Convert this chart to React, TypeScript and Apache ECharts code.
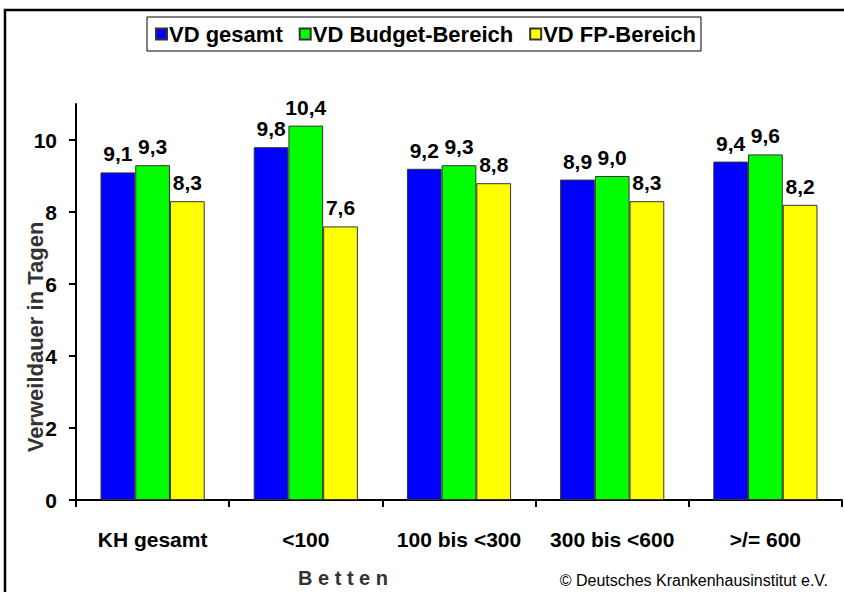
import React, { useEffect, useRef } from "react";
import * as echarts from "echarts";

const categories = ["KH gesamt", "<100", "100 bis <300", "300 bis <600", ">/= 600"];
const seriesNames = ["VD gesamt", "VD Budget-Bereich", "VD FP-Bereich"];
const vdGesamt = [9.1, 9.8, 9.2, 8.9, 9.4];
const vdBudget = [9.3, 10.4, 9.3, 9.0, 9.6];
const vdFP = [8.3, 7.6, 8.8, 8.3, 8.2];
const colors = ["#0000FF", "#00FF00", "#FFFF00"];
const yTicks = [0, 2, 4, 6, 8, 10];
const xAxisTitle = "B e t t e n";
const yAxisTitle = "Verweildauer in Tagen";
const copyright = "© Deutsches Krankenhausinstitut e.V.";

const FONT = "'Liberation Sans', Arial, sans-serif";

export default function App() {
  const ref = useRef<HTMLDivElement>(null);
  useEffect(() => {
    document.body.style.margin = "0";
    if (!ref.current) return;
    const chart = echarts.init(ref.current, null, { renderer: "svg" });
    const allData = [vdGesamt, vdBudget, vdFP];
    chart.setOption({
      animation: false,
      backgroundColor: "#fff",
      textStyle: { fontFamily: FONT },
      legend: {
        left: 147,
        top: 17,
        padding: [6, 5, 6, 8],
        itemGap: 16,
        itemWidth: 11,
        itemHeight: 11,
        borderColor: "#000",
        borderWidth: 1,
        backgroundColor: "#fff",
        textStyle: { fontSize: 22, fontWeight: "bold", color: "#000", fontFamily: FONT, padding: [0, 0, 0, -3] },
        data: seriesNames.map((n) => ({ name: n, icon: "rect" })),
      },
      grid: { left: 76, right: 2, top: 104, bottom: 92, containLabel: false, outerBoundsMode: "none" },
      xAxis: {
        type: "category",
        data: categories,
        axisLine: { lineStyle: { color: "#000", width: 2 } },
        axisTick: { show: true, length: 7, interval: 0, lineStyle: { color: "#000", width: 2 } },
        axisLabel: { interval: 0, margin: 29, fontSize: 21, fontWeight: "bold", color: "#000", fontFamily: FONT },
      },
      yAxis: {
        type: "value",
        min: 0,
        max: 11,
        splitLine: { show: false },
        axisLine: { show: true, lineStyle: { color: "#000", width: 2 } },
        axisTick: { show: true, length: 7, lineStyle: { color: "#000", width: 2 }, customValues: yTicks },
        axisLabel: { margin: 19, fontSize: 21, fontWeight: "bold", color: "#000", fontFamily: FONT, customValues: yTicks },
      },
      series: seriesNames.map((name, i) => ({
        name,
        type: "bar",
        data: allData[i],
        barGap: "0%",
        barCategoryGap: "32%",
        itemStyle: { color: colors[i], borderColor: "#333", borderWidth: 1 },
        label: {
          show: true,
          position: "top",
          distance: 8,
          fontSize: 21,
          fontWeight: "bold",
          color: "#000",
          fontFamily: FONT,
          formatter: (p: any) => Number(p.value).toFixed(1).replace(".", ","),
        },
      })),
      graphic: [
        {
          type: "rect",
          shape: { x: 5, y: 10, width: 860, height: 620 },
          style: { fill: "none", stroke: "#000", lineWidth: 2.5 },
          z: 100,
        },
        {
          type: "text",
          x: 35,
          y: 337,
          rotation: Math.PI / 2,
          style: {
            text: yAxisTitle,
            fontSize: 22,
            fontWeight: "bold",
            fill: "#333",
            fontFamily: FONT,
            align: "center",
            verticalAlign: "middle",
          },
        },
        {
          type: "text",
          x: 343,
          y: 578,
          style: {
            text: xAxisTitle,
            fontSize: 20,
            fontWeight: "bold",
            fill: "#333",
            fontFamily: FONT,
            align: "center",
            verticalAlign: "middle",
          },
        },
        {
          type: "text",
          x: 828,
          y: 580,
          style: {
            text: copyright,
            fontSize: 16,
            fill: "#000",
            fontFamily: FONT,
            align: "right",
            verticalAlign: "middle",
          },
        },
      ],
    });
    return () => chart.dispose();
  }, []);
  return <div ref={ref} style={{ width: 844, height: 592 }} />;
}
